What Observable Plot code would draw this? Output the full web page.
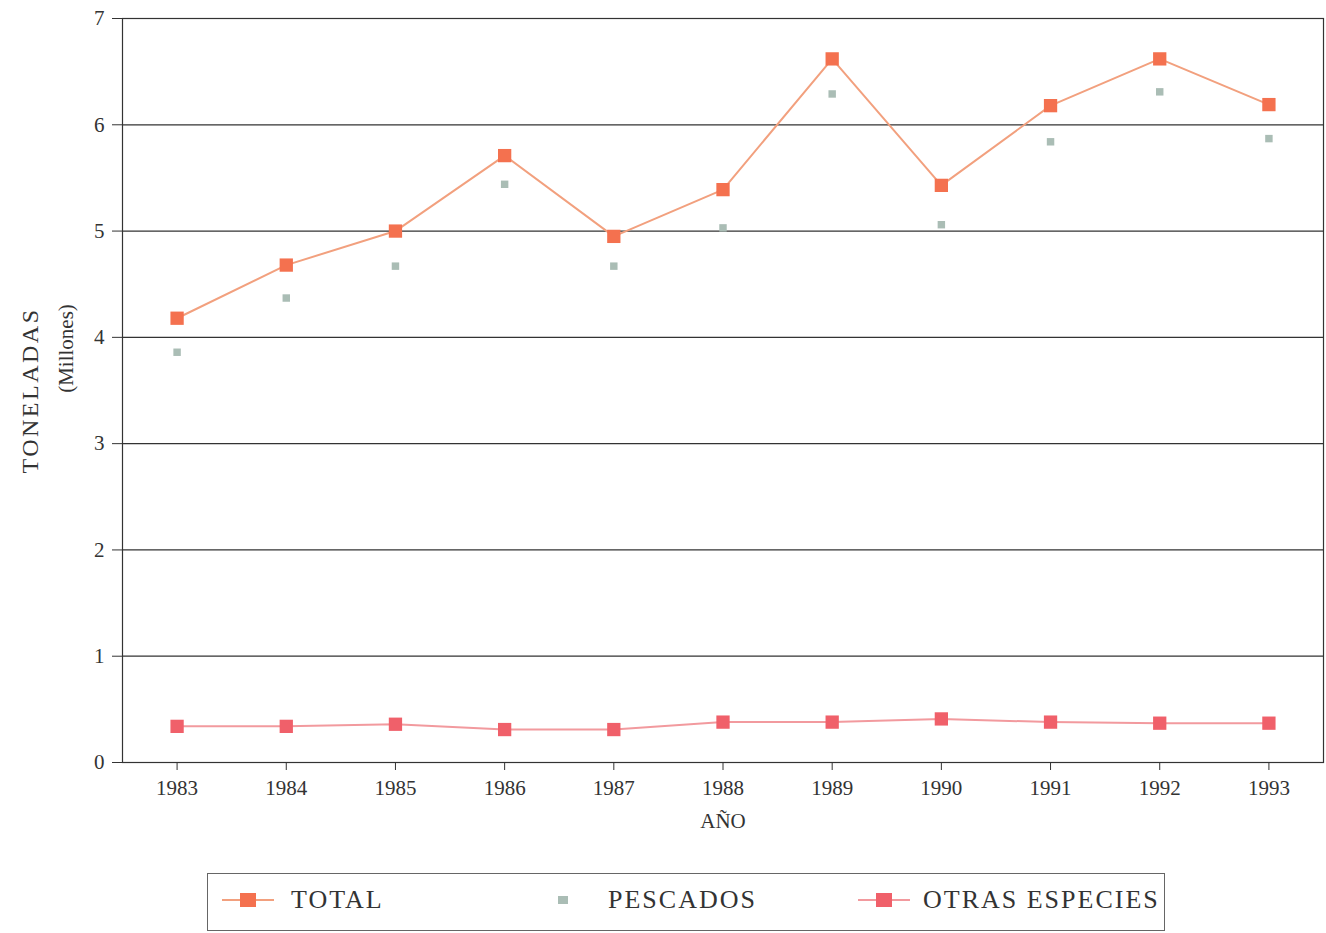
<!DOCTYPE html>
<html>
<head>
<meta charset="utf-8">
<script src="https://cdn.jsdelivr.net/npm/d3@7"></script>
<script src="https://cdn.jsdelivr.net/npm/@observablehq/plot@0.6"></script>
<style>
  body { margin: 0; background: #fff; font-family: "Liberation Serif", serif; }
  #legend { position: absolute; left: 207px; top: 873px; width: 958px; height: 58px;
    border: 1.5px solid #666; box-sizing: border-box;
    font-family: "Liberation Serif", serif; font-size: 26px; letter-spacing: 2px; color: #333; }
  .item { position: absolute; display: flex; align-items: center; top: 11px; }
</style>
</head>
<body>
<div id="chart"></div>
<div id="legend">
  <div class="item" style="left:14px"><svg width="52" height="30" style="margin-right:17px"><line x1="0" y1="15" x2="52" y2="15" stroke="#f2a07e" stroke-width="2"/><rect x="18" y="8" width="16" height="14" fill="#f4714f"/></svg>TOTAL</div>
  <div class="item" style="left:348px"><svg width="16" height="30" style="margin-right:36px"><rect x="2" y="11" width="10" height="8" fill="#aabdb5"/></svg>PESCADOS</div>
  <div class="item" style="left:650px"><svg width="52" height="30" style="margin-right:13px"><line x1="0" y1="15" x2="52" y2="15" stroke="#f29a9e" stroke-width="2"/><rect x="18" y="8" width="16" height="14" fill="#f0606a"/></svg>OTRAS ESPECIES</div>
</div>
<script>
const years = [1983, 1984, 1985, 1986, 1987, 1988, 1989, 1990, 1991, 1992, 1993];
const total = [4.18, 4.68, 5.0, 5.71, 4.95, 5.39, 6.62, 5.43, 6.18, 6.62, 6.19];
const pescados = [3.86, 4.37, 4.67, 5.44, 4.67, 5.03, 6.29, 5.06, 5.84, 6.31, 5.87];
const otras = [0.34, 0.34, 0.36, 0.31, 0.31, 0.38, 0.38, 0.41, 0.38, 0.37, 0.37];
const yTicks = [0, 1, 2, 3, 4, 5, 6, 7];

const tot = years.map((y, i) => ({year: y, v: total[i]}));
const pes = years.map((y, i) => ({year: y, v: pescados[i]}));
const otr = years.map((y, i) => ({year: y, v: otras[i]}));

const chart = Plot.plot({
  width: 1326,
  height: 860,
  marginLeft: 122,
  marginRight: 3,
  marginTop: 18,
  marginBottom: 98,
  style: {fontFamily: "Liberation Serif, serif", fontSize: "21px", color: "#333", background: "#fff"},
  x: {domain: [1982.5, 1993.5], ticks: years, tickFormat: d => String(d)},
  y: {domain: [0, 7], ticks: yTicks, tickFormat: d => String(d)},
  marks: [
    Plot.gridY(yTicks.slice(1), {stroke: "#333", strokeOpacity: 1, strokeWidth: 1.2}),
    Plot.frame({stroke: "#333", strokeWidth: 1.2}),
    Plot.axisY({ticks: yTicks, tickSize: 10, tickPadding: 8, tickFormat: d => String(d), label: null, fontSize: 21, stroke: "#333"}),
    Plot.axisX({ticks: years, tickSize: 8, tickPadding: 10, tickFormat: d => String(d), label: null, fontSize: 21, stroke: "#333"}),
    Plot.text(["AÑO"], {frameAnchor: "bottom", dy: 65, fontSize: 21, fill: "#333"}),
    Plot.text(["TONELADAS"], {frameAnchor: "left", textAnchor: "middle", dx: -92, rotate: -90, fontSize: 24, fill: "#333", className: "ylab"}),
    Plot.text(["(Millones)"], {frameAnchor: "left", textAnchor: "middle", dx: -56, dy: -42, rotate: -90, fontSize: 21, fill: "#333"}),
    Plot.line(tot, {x: "year", y: "v", stroke: "#f2a07e", strokeWidth: 2}),
    Plot.line(otr, {x: "year", y: "v", stroke: "#f29a9e", strokeWidth: 2}),
    Plot.dot(pes, {x: "year", y: "v", symbol: "square", r: 4.2, fill: "#aabdb5"}),
    Plot.dot(tot, {x: "year", y: "v", symbol: "square", r: 7.5, fill: "#f4714f"}),
    Plot.dot(otr, {x: "year", y: "v", symbol: "square", r: 7.5, fill: "#f0606a"})
  ]
});
d3.select(chart).selectAll("text").filter(function() { return this.textContent === "TONELADAS"; })
  .attr("letter-spacing", 2.5);
document.getElementById("chart").append(chart);
</script>
</body>
</html>
